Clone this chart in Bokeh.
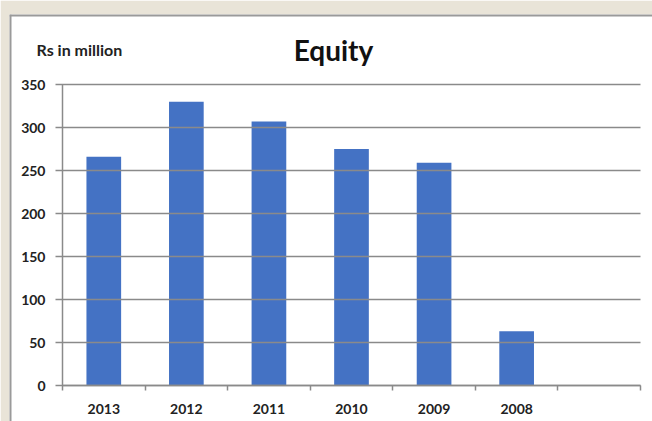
from bokeh.plotting import figure
from bokeh.models import Range1d, FixedTicker, Label, ColumnDataSource, Span
from bokeh.embed import file_html
from bokeh.resources import INLINE

# data
years = ["2013", "2012", "2011", "2010", "2009", "2008"]
equity = [266, 330, 307, 275, 259, 63]
n_slots = 7  # one empty slot at the right end
y_ticks = [0, 50, 100, 150, 200, 250, 300, 350]
title_text = "Equity"
unit_text = "Rs in million"

FONT = "Lato"
GRID = "#8a8a8a"
BAR = "#4472C4"
TXT = "#222222"

# layout (pixels): outer frame box, and the chart area inside it
W, H = 652, 421
BOX_L, BOX_T = 9, 14
AX_L, AX_R = 62, 640        # x extent of axis / grid
AX_B, AX_T = 385, 84        # y of 0 and of 350
HEAD_PX = 49                # vertical centre of the heading texts
UNIT_PX = 36                # left edge of "Rs in million"
TITLE_PX = 333              # centre of "Equity"

slot_px = (AX_R - AX_L) / n_slots
ppu = (AX_B - AX_T) / y_ticks[-1]
x0 = -(AX_L - BOX_L) / slot_px
x1 = n_slots + (W - AX_R) / slot_px
y0 = -(H - AX_B) / ppu
y1 = y_ticks[-1] + (AX_T - BOX_T) / ppu
head_y = y_ticks[-1] + (AX_T - HEAD_PX) / ppu

xs = [i + 0.5 for i in range(len(years))]
src = ColumnDataSource(dict(x=xs, top=equity, year=years))

p = figure(width=W, height=H, output_backend="svg", toolbar_location=None,
           x_range=Range1d(x0, x1), y_range=Range1d(y0, y1),
           min_border_left=BOX_L, min_border_top=BOX_T,
           min_border_right=0, min_border_bottom=0)
p.title.visible = False
p.outline_line_color = None
p.background_fill_color = "white"
p.border_fill_color = "#e9e4d8"
p.xgrid.visible = False
p.ygrid.visible = False

# outer box edges (left and top; the others lie beyond the picture)
p.add_layout(Span(location=x0, dimension="height", line_color="#9a9a9a",
                  line_width=4))
p.add_layout(Span(location=y1, dimension="width", line_color="#9a9a9a",
                  line_width=4))

p.vbar(x="x", top="top", width=0.42, source=src, fill_color=BAR,
       line_color=None)

# x axis drawn at y = 0: labels at centres, ticks at slot boundaries
xa = p.xaxis[0]
xa.fixed_location = 0
xa.bounds = (0, n_slots)
xa.ticker = FixedTicker(ticks=xs, minor_ticks=list(range(n_slots + 1)))
xa.major_label_overrides = {x: y for x, y in zip(xs, years)}
xa.major_tick_line_color = None
xa.major_tick_out = 0
xa.major_tick_in = 0
xa.minor_tick_line_color = GRID
xa.minor_tick_out = 5
xa.minor_tick_in = 0
xa.minor_tick_line_width = 1.5
xa.axis_line_color = GRID
xa.axis_line_width = 1.5
xa.major_label_standoff = 13
xa.major_label_text_font = FONT
xa.major_label_text_font_size = "14px"
xa.major_label_text_font_style = "bold"
xa.major_label_text_color = TXT

# y axis drawn at x = 0; its inner ticks run across as the gridlines
ya = p.yaxis[0]
ya.fixed_location = 0
ya.bounds = (0, y_ticks[-1])
ya.ticker = FixedTicker(ticks=y_ticks)
ya.minor_tick_line_color = None
ya.major_tick_out = 7
ya.major_tick_in = AX_R - AX_L
ya.major_tick_line_color = GRID
ya.major_tick_line_width = 1.5
ya.axis_line_color = GRID
ya.axis_line_width = 1.5
ya.major_label_standoff = 10
ya.major_label_text_font = FONT
ya.major_label_text_font_size = "14px"
ya.major_label_text_font_style = "bold"
ya.major_label_text_color = TXT

# headings
p.add_layout(Label(x=x0 + (TITLE_PX - BOX_L) / slot_px, y=head_y,
                   text=title_text, text_align="center", text_baseline="middle",
                   text_font=FONT, text_font_size="28px", text_font_style="bold",
                   text_color="#111111"))
p.add_layout(Label(x=x0 + (UNIT_PX - BOX_L) / slot_px, y=head_y,
                   text=unit_text, text_align="left", text_baseline="middle",
                   text_font=FONT, text_font_size="16px", text_font_style="bold",
                   text_color=TXT))

open("out.html", "w").write(file_html(p, INLINE))
